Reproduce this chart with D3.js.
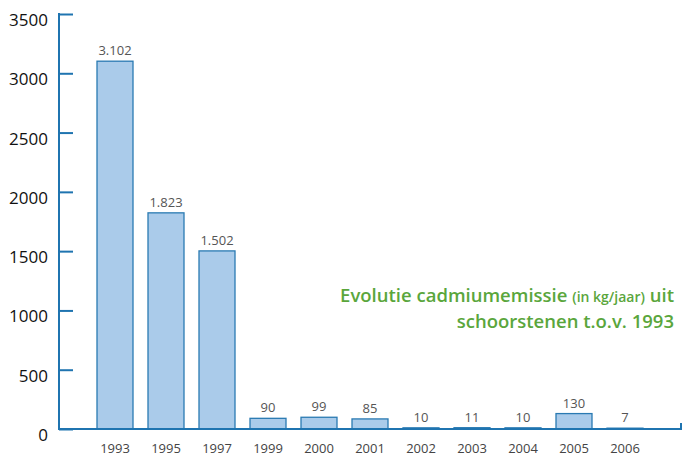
<!DOCTYPE html>
<html><head><meta charset="utf-8">
<script src="https://cdn.jsdelivr.net/npm/d3@7"></script>
<style>body{margin:0;background:#fff}svg{display:block}</style>
</head><body>
<svg id="c" width="684" height="457"></svg>
<script>
const years = ["1993","1995","1997","1999","2000","2001","2002","2003","2004","2005","2006"];
const values = [3102,1823,1502,90,99,85,10,11,10,130,7];
const valueLabels = ["3.102","1.823","1.502","90","99","85","10","11","10","130","7"];
const yTicks = [0,500,1000,1500,2000,2500,3000,3500];

const svg = d3.select("#c");
const font = "'Open Sans', 'Noto Sans', sans-serif";
const axisColor = "#1f74b0";
const y = d3.scaleLinear().domain([0,3500]).range([429,14]);
const x = d3.scaleBand().domain(years).range([89.5,650.5]).paddingInner(15/51).paddingOuter(15/102);

// bars
svg.append("g").selectAll("rect").data(values).join("rect")
  .attr("x",(d,i)=>x(years[i]))
  .attr("y",d=>y(d))
  .attr("width",x.bandwidth())
  .attr("height",d=>y(0)-y(d))
  .attr("fill","#aacbea")
  .attr("stroke","#2a7ab2")
  .attr("stroke-width",1.3);

// value labels
svg.append("g").selectAll("text").data(values).join("text")
  .attr("x",(d,i)=>x(years[i])+x.bandwidth()/2)
  .attr("y",d=>y(d)-6)
  .attr("text-anchor","middle")
  .attr("font-family",font).attr("font-size",13).attr("fill","#555")
  .text((d,i)=>valueLabels[i]);

// y axis
const yAxis = d3.axisRight(y).tickValues(yTicks).tickSize(14).tickFormat("");
const gy = svg.append("g").attr("transform","translate(59,0)").call(yAxis);
gy.select(".domain").remove();
gy.selectAll(".tick line").attr("stroke",axisColor).attr("stroke-width",2);
svg.append("line").attr("x1",59).attr("x2",59).attr("y1",y(3500)-1).attr("y2",y(0)+1)
  .attr("stroke",axisColor).attr("stroke-width",2);
svg.append("g").selectAll("text").data(yTicks).join("text")
  .attr("x",48).attr("y",d=>y(d)+12)
  .attr("text-anchor","end")
  .attr("font-family",font).attr("font-size",17).attr("fill","#111")
  .text(d=>d);

// x axis
svg.append("line").attr("x1",59).attr("x2",682).attr("y1",y(0)).attr("y2",y(0))
  .attr("stroke",axisColor).attr("stroke-width",2);
svg.append("line").attr("x1",681).attr("x2",681).attr("y1",y(0)).attr("y2",y(0)-6)
  .attr("stroke",axisColor).attr("stroke-width",2);
const xAxis = d3.axisBottom(x).tickSize(0).tickPadding(0);
const gx = svg.append("g").attr("transform","translate(0,"+y(0)+")").call(xAxis);
gx.select(".domain").remove();
gx.selectAll("text").attr("dy",null).attr("y",24)
  .attr("font-family",font).attr("font-size",13).attr("fill","#444");

// title
const t = svg.append("text").attr("text-anchor","end")
  .attr("font-family",font).attr("fill","#5aa63c").attr("font-weight",600);
t.append("tspan").attr("x",674).attr("y",302).attr("font-size",18.5).text("Evolutie cadmiumemissie ");
t.append("tspan").attr("font-size",14).text("(in kg/jaar)");
t.append("tspan").attr("font-size",18.5).text(" uit");
svg.append("text").attr("text-anchor","end").attr("x",674).attr("y",328)
  .attr("font-family",font).attr("fill","#5aa63c").attr("font-weight",600).attr("font-size",18.5)
  .text("schoorstenen t.o.v. 1993");
</script>
</body></html>
